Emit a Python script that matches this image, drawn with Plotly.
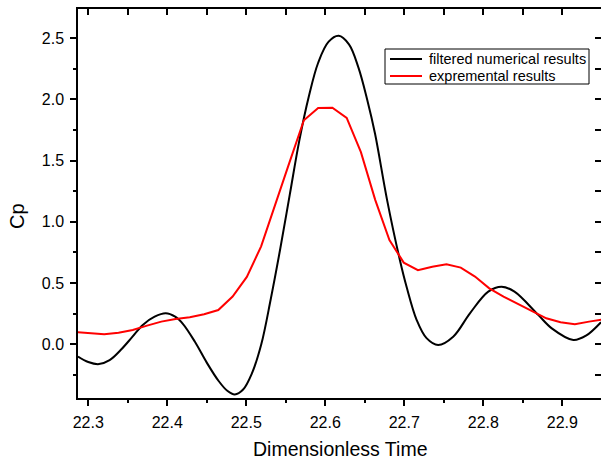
import plotly.graph_objects as go

# filtered numerical results (black, smooth)
num_t = [22.287, 22.300, 22.3135, 22.327, 22.341, 22.356, 22.369, 22.384, 22.398,
         22.410, 22.420, 22.435, 22.450, 22.465, 22.476, 22.4855, 22.496, 22.507,
         22.519, 22.531, 22.543, 22.555, 22.567, 22.579, 22.591, 22.604, 22.617,
         22.630, 22.642, 22.653, 22.663, 22.6782, 22.6944, 22.7029, 22.7156,
         22.7282, 22.7429, 22.7619, 22.7831, 22.8063, 22.8232, 22.8395, 22.8695,
         22.8867, 22.914, 22.930, 22.949]
num_cp = [-0.10, -0.145, -0.162, -0.13, -0.047, 0.062, 0.158, 0.225, 0.253,
          0.225, 0.165, 0.02, -0.15, -0.30, -0.38, -0.41, -0.37, -0.24,
          0.00, 0.37, 0.78, 1.22, 1.66, 2.02, 2.30, 2.47, 2.52,
          2.45, 2.26, 2.00, 1.72, 1.18, 0.689, 0.47, 0.20,
          0.05, -0.006, 0.062, 0.253, 0.43, 0.47, 0.43, 0.24,
          0.13, 0.035, 0.07, 0.18]

# experimental results (red, piecewise linear)
exp_t = [22.2841, 22.3022, 22.3202, 22.3383, 22.3563, 22.3744, 22.3924, 22.4105,
         22.4285, 22.4466, 22.4646, 22.4827, 22.5007, 22.5188, 22.5368, 22.5549,
         22.5729, 22.5910, 22.6090, 22.6271, 22.6451, 22.6632, 22.6812, 22.6993,
         22.7173, 22.7354, 22.7534, 22.7715, 22.7895, 22.8076, 22.8256, 22.8437,
         22.8617, 22.8798, 22.8978, 22.9159, 22.9339, 22.9520]
exp_cp = [0.10, 0.09, 0.082, 0.095, 0.117, 0.152, 0.185, 0.207,
          0.22, 0.245, 0.28, 0.39, 0.55, 0.80, 1.15, 1.49,
          1.83, 1.93, 1.933, 1.85, 1.57, 1.18, 0.852, 0.667,
          0.605, 0.634, 0.653, 0.626, 0.553, 0.457, 0.39, 0.33,
          0.267, 0.212, 0.18, 0.163, 0.185, 0.204]

series_names = ["filtered numerical results", "expremental results"]
series_colors = ["black", "#ff0000"]

x_range = [22.287, 22.949]
y_range = [-0.439, 2.739]
FONT = "Liberation Sans, Arial, sans-serif"

# plot-area pixel geometry (for placing legend / titles)
L, R, T, B = 78, 601, 9, 398
def px(x):
    return (x - L) / (R - L)
def py(y):
    return (B - y) / (B - T)

fig = go.Figure()
fig.add_trace(go.Scatter(x=num_t, y=num_cp, mode="lines",
                         line=dict(color=series_colors[0], width=2, shape="spline", smoothing=1.0),
                         name=series_names[0], showlegend=False))
fig.add_trace(go.Scatter(x=exp_t, y=exp_cp, mode="lines",
                         line=dict(color=series_colors[1], width=2),
                         name=series_names[1], showlegend=False))
# helper trace to activate mirror axes (top/right)
fig.add_trace(go.Scatter(x=[None], y=[None], xaxis="x2", yaxis="y2",
                         showlegend=False, hoverinfo="skip"))

shapes = [
    dict(type="rect", xref="paper", yref="paper",
         x0=px(385), x1=px(589), y0=py(84), y1=py(49),
         line=dict(color="black", width=1), fillcolor="white", layer="above"),
]
annotations = [
    dict(text="Dimensionless Time", xref="paper", yref="paper",
         x=0.5, y=py(449), xanchor="center", yanchor="middle",
         showarrow=False, font=dict(size=19.5, family=FONT, color="black")),
    dict(text="Cp", xref="paper", yref="paper", x=px(17), y=py(216),
         xanchor="center", yanchor="middle", textangle=-90,
         showarrow=False, font=dict(size=20, family=FONT, color="black")),
]
for i, (nm, col) in enumerate(zip(series_names, series_colors)):
    yy = 59 + 17 * i
    shapes.append(dict(type="line", xref="paper", yref="paper",
                       x0=px(390), x1=px(422), y0=py(yy), y1=py(yy),
                       line=dict(color=col, width=2), layer="above"))
    annotations.append(dict(text=nm, xref="paper", yref="paper",
                            x=px(427), y=py(yy), xanchor="left", yanchor="middle",
                            showarrow=False,
                            font=dict(size=14.5, family=FONT, color="black")))

fig.update_layout(
    width=601, height=459,
    margin=dict(l=L, r=0, t=T, b=459 - B),
    paper_bgcolor="white", plot_bgcolor="white",
    font=dict(family=FONT, color="black"),
    showlegend=False,
    xaxis=dict(range=x_range, showline=True, linecolor="black", linewidth=1.5,
               ticks="outside", ticklen=6, tickwidth=1.5, tickcolor="black",
               dtick=0.1, tick0=22.3, tickformat=".1f", ticklabelstandoff=3,
               minor=dict(dtick=0.05, tick0=22.3, ticks="outside", ticklen=3,
                          tickwidth=1.5, tickcolor="black"),
               showgrid=False, zeroline=False,
               tickfont=dict(size=16, family=FONT, color="black")),
    xaxis2=dict(range=x_range, overlaying="x", side="top", showline=True,
                linecolor="black", linewidth=1.5, ticks="inside", ticklen=6,
                tickwidth=1.5, tickcolor="black", dtick=0.05, tick0=22.3,
                showticklabels=False, showgrid=False, zeroline=False),
    yaxis=dict(range=y_range, showline=True, linecolor="black", linewidth=1.5,
               ticks="outside", ticklen=6, tickwidth=1.5, tickcolor="black",
               dtick=0.5, tick0=0, tickformat=".1f", ticklabelstandoff=3,
               minor=dict(dtick=0.25, tick0=0, ticks="outside", ticklen=3,
                          tickwidth=1.5, tickcolor="black"),
               showgrid=False, zeroline=False,
               tickfont=dict(size=16, family=FONT, color="black")),
    yaxis2=dict(range=y_range, overlaying="y", side="right", showline=False,
                ticks="inside", ticklen=6, tickwidth=1.5, tickcolor="black",
                dtick=0.25, tick0=0, showticklabels=False, showgrid=False,
                zeroline=False),
    shapes=shapes,
    annotations=annotations,
)

fig.write_html("out.html")
